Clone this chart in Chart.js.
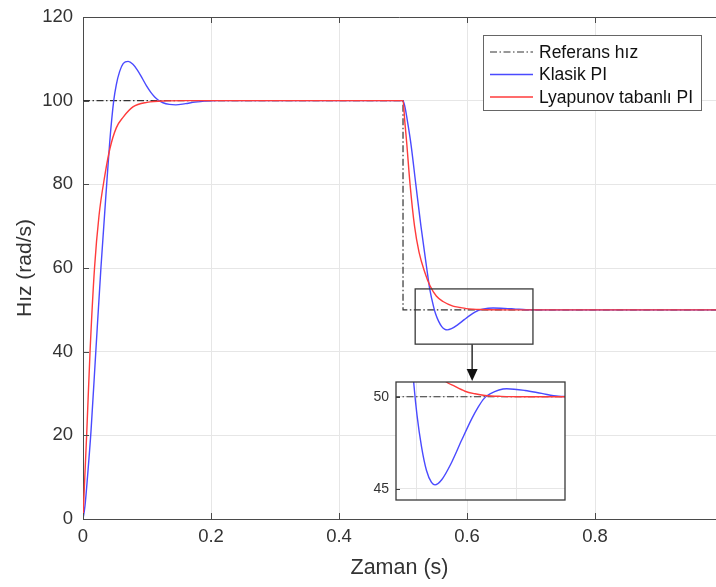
<!DOCTYPE html>
<html>
<head>
<meta charset="utf-8">
<script src="https://cdn.jsdelivr.net/npm/chart.js@4.4.0/dist/chart.umd.min.js"></script>
<style>
  html, body { margin: 0; padding: 0; background: #fff; }
  #wrap { position: relative; width: 716px; height: 587px; }
  #main { position: absolute; left: 0; top: 0; width: 716px; height: 587px; }
  #inset { position: absolute; left: 365px; top: 366px; width: 205px; height: 150px; }
</style>
</head>
<body>
<div id="wrap">
  <canvas id="main" width="716" height="587"></canvas>
  <canvas id="inset" width="205" height="150"></canvas>
</div>
<script>
// --- data ---
const seriesLabels = ['Referans hız', 'Klasik PI', 'Lyapunov tabanlı PI'];

const refT = [0, 0.5, 0.5, 1.0];
const refY = [100, 100, 50, 50];

const klasikT = [0, 0.003, 0.007, 0.0125, 0.02, 0.028, 0.037, 0.0417, 0.048, 0.052, 0.0573, 0.063, 0.0705, 0.078, 0.085,
  0.092, 0.099, 0.106, 0.112, 0.118, 0.125, 0.135, 0.145, 0.16, 0.175, 0.19, 0.21, 0.5, 0.503, 0.507, 0.5125, 0.52, 0.528,
  0.537, 0.5417, 0.548, 0.551, 0.5555, 0.5605, 0.5655, 0.569, 0.5757, 0.5857, 0.5957, 0.6057, 0.6123, 0.618, 0.624,
  0.6407, 0.659, 0.6757, 0.6923, 0.72, 1.0];
const klasikY = [0, 3, 10, 21, 40, 60, 80, 90, 100, 103.8, 107, 108.9, 109.4, 108.7, 107.3,
  105.5, 103.6, 102.0, 100.9, 100.1, 99.5, 99.1, 99.0, 99.3, 99.65, 99.9, 100, 100, 98.5, 95, 89.5, 80, 70,
  60, 55, 50.6, 49.0, 47.3, 46.0, 45.35, 45.22, 45.5, 46.45, 47.65, 48.8, 49.45, 49.9, 50.15,
  50.43, 50.34, 50.18, 50.03, 50, 50];

const lyapT = [0, 0.0028, 0.0057, 0.011, 0.018, 0.025, 0.034, 0.042, 0.052, 0.0625, 0.078, 0.1, 0.13, 0.16,
  0.5, 0.5028, 0.5057, 0.511, 0.518, 0.525, 0.534, 0.542, 0.552, 0.5625, 0.578, 0.589, 0.599, 0.609, 0.619,
  0.635, 0.66, 1.0];
const lyapY = [0, 10, 20, 40, 60, 72.5, 82, 88.5, 93.5, 96, 98.5, 99.6, 99.95, 100,
  100, 95, 90, 80, 70, 63.8, 59, 55.8, 53.3, 52.0, 50.9, 50.56, 50.3, 50.16, 50.07,
  50.02, 50, 50];

const xTicks = [0, 0.2, 0.4, 0.6, 0.8];
const yTicks = [0, 20, 40, 60, 80, 100, 120];

// zoom window and inset ranges
const zoomX = [0.519, 0.703];
const zoomY = [41.8, 55.0];
const arrowX = 0.608;
const insetX = [0.53, 0.699];
const insetY = [44.4, 50.8];
const insetXTicks = [0.55, 0.6, 0.65];
const insetYTicks = [45, 50];

// --- styles ---
const FONT = "'Liberation Sans', Arial, sans-serif";
const AXIS = '#4a4a4a';
const GRID = '#e6e6e6';
const TEXT = '#333';
const COLORS = ['#333333', '#4a4aff', '#ff3b3b'];
const DASHDOT = [7, 2.5, 1.5, 2.5];

function pts(t, y) { return t.map((v, i) => ({ x: v, y: y[i] })); }

function makeDatasets() {
  return [
    { label: seriesLabels[0], data: pts(refT, refY), borderColor: COLORS[0], borderWidth: 1.2,
      borderDash: DASHDOT, tension: 0, order: 2 },
    { label: seriesLabels[1], data: pts(klasikT, klasikY), borderColor: COLORS[1], borderWidth: 1.4,
      cubicInterpolationMode: 'monotone', order: 1 },
    { label: seriesLabels[2], data: pts(lyapT, lyapY), borderColor: COLORS[2], borderWidth: 1.4,
      cubicInterpolationMode: 'monotone', order: 0 }
  ];
}

// box, inward ticks, zoom window, arrow and legend
const mainDecor = {
  id: 'mainDecor',
  afterDatasetsDraw(chart) {
    const { ctx, chartArea: a, scales: { x, y } } = chart;
    ctx.save();
    ctx.strokeStyle = AXIS;
    ctx.lineWidth = 1;
    ctx.beginPath();
    ctx.moveTo(a.left, a.top + 0.5);
    ctx.lineTo(a.right, a.top + 0.5);
    xTicks.forEach(v => {
      const px = Math.round(x.getPixelForValue(v)) + 0.5;
      ctx.moveTo(px, a.bottom); ctx.lineTo(px, a.bottom - 6);
      ctx.moveTo(px, a.top); ctx.lineTo(px, a.top + 6);
    });
    yTicks.forEach(v => {
      const py = Math.round(y.getPixelForValue(v)) + 0.5;
      ctx.moveTo(a.left, py); ctx.lineTo(a.left + 6, py);
    });
    ctx.stroke();

    // zoom window
    const zx0 = x.getPixelForValue(zoomX[0]), zx1 = x.getPixelForValue(zoomX[1]);
    const zy0 = y.getPixelForValue(zoomY[1]), zy1 = y.getPixelForValue(zoomY[0]);
    ctx.strokeStyle = '#3a3a3a';
    ctx.lineWidth = 1.3;
    ctx.strokeRect(zx0, zy0, zx1 - zx0, zy1 - zy0);

    // arrow down to inset
    const ax = x.getPixelForValue(arrowX);
    const tipY = 381;
    ctx.beginPath();
    ctx.moveTo(ax, zy1);
    ctx.lineTo(ax, tipY - 10);
    ctx.lineWidth = 1.6;
    ctx.stroke();
    ctx.fillStyle = '#111';
    ctx.beginPath();
    ctx.moveTo(ax - 5.5, tipY - 12);
    ctx.lineTo(ax + 5.5, tipY - 12);
    ctx.lineTo(ax, tipY);
    ctx.closePath();
    ctx.fill();

    // legend
    const lx = 483, ly = 35, lw = 218, lh = 75;
    ctx.fillStyle = '#fff';
    ctx.fillRect(lx, ly, lw, lh);
    ctx.strokeStyle = '#666';
    ctx.lineWidth = 1;
    ctx.strokeRect(lx + 0.5, ly + 0.5, lw, lh);
    const rows = [52, 74.5, 97];
    chart.data.datasets.forEach((ds, i) => {
      ctx.beginPath();
      ctx.strokeStyle = ds.borderColor;
      ctx.lineWidth = ds.borderWidth;
      ctx.setLineDash(ds.borderDash || []);
      ctx.moveTo(490, rows[i]);
      ctx.lineTo(533, rows[i]);
      ctx.stroke();
      ctx.setLineDash([]);
      ctx.fillStyle = '#111';
      ctx.font = '17.5px ' + FONT;
      ctx.textBaseline = 'middle';
      ctx.textAlign = 'left';
      ctx.fillText(ds.label, 539, rows[i] + 1);
    });
    ctx.restore();
  }
};

new Chart(document.getElementById('main'), {
  type: 'line',
  data: { datasets: makeDatasets() },
  options: {
    responsive: false,
    animation: false,
    layout: { padding: { top: 17, right: 0, left: 0, bottom: 0 } },
    elements: { point: { radius: 0 } },
    plugins: { legend: { display: false }, tooltip: { enabled: false } },
    scales: {
      x: {
        type: 'linear', min: 0, max: 0.989,
        afterBuildTicks: s => { s.ticks = xTicks.map(v => ({ value: v })); },
        afterFit: s => { s.height = 68; },
        grid: { color: GRID, drawTicks: false },
        border: { display: true, color: AXIS, width: 1 },
        ticks: { font: { family: FONT, size: 18.5 }, color: TEXT, padding: 7, maxRotation: 0,
          callback: v => String(v) },
        title: { display: true, text: 'Zaman (s)', font: { family: FONT, size: 21.5 }, color: TEXT,
          padding: { top: 0, bottom: 6 } }
      },
      y: {
        type: 'linear', min: 0, max: 120,
        afterBuildTicks: s => { s.ticks = yTicks.map(v => ({ value: v })); },
        afterFit: s => { s.width = 83; },
        grid: { color: GRID, drawTicks: false },
        border: { display: true, color: AXIS, width: 1 },
        ticks: { font: { family: FONT, size: 18.5, lineHeight: 0.5 }, color: TEXT, padding: 10 },
        title: { display: true, text: 'Hız (rad/s)', font: { family: FONT, size: 21 }, color: TEXT,
          padding: { top: 13, bottom: 0 } }
      }
    }
  },
  plugins: [mainDecor]
});

// inset: white area, frame and inward ticks
const insetDecor = {
  id: 'insetDecor',
  beforeDraw(chart) {
    const { ctx, chartArea: a } = chart;
    ctx.save();
    ctx.fillStyle = '#fff';
    ctx.fillRect(a.left, a.top, a.right - a.left, a.bottom - a.top);
    ctx.restore();
  },
  afterDraw(chart) {
    const { ctx, chartArea: a, scales: { y } } = chart;
    ctx.save();
    ctx.strokeStyle = '#3a3a3a';
    ctx.lineWidth = 1.3;
    ctx.strokeRect(a.left, a.top, a.right - a.left, a.bottom - a.top);
    ctx.lineWidth = 1;
    ctx.beginPath();
    insetYTicks.forEach(v => {
      const py = Math.round(y.getPixelForValue(v)) + 0.5;
      ctx.moveTo(a.left, py); ctx.lineTo(a.left + 4, py);
    });
    ctx.stroke();
    ctx.restore();
  }
};

new Chart(document.getElementById('inset'), {
  type: 'line',
  data: { datasets: makeDatasets() },
  options: {
    responsive: false,
    animation: false,
    layout: { padding: { top: 16, right: 5, left: 0, bottom: 16 } },
    elements: { point: { radius: 0 } },
    plugins: { legend: { display: false }, tooltip: { enabled: false } },
    scales: {
      x: {
        type: 'linear', min: insetX[0], max: insetX[1],
        afterBuildTicks: s => { s.ticks = insetXTicks.map(v => ({ value: v })); },
        afterFit: s => { s.height = 0; },
        grid: { color: GRID, drawTicks: false },
        border: { display: false },
        ticks: { display: false }
      },
      y: {
        type: 'linear', min: insetY[0], max: insetY[1],
        afterBuildTicks: s => { s.ticks = insetYTicks.map(v => ({ value: v })); },
        afterFit: s => { s.width = 31; },
        grid: { color: GRID, drawTicks: false },
        border: { display: false },
        ticks: { font: { family: FONT, size: 14 }, color: TEXT, padding: 7 }
      }
    }
  },
  plugins: [insetDecor]
});
</script>
</body>
</html>
